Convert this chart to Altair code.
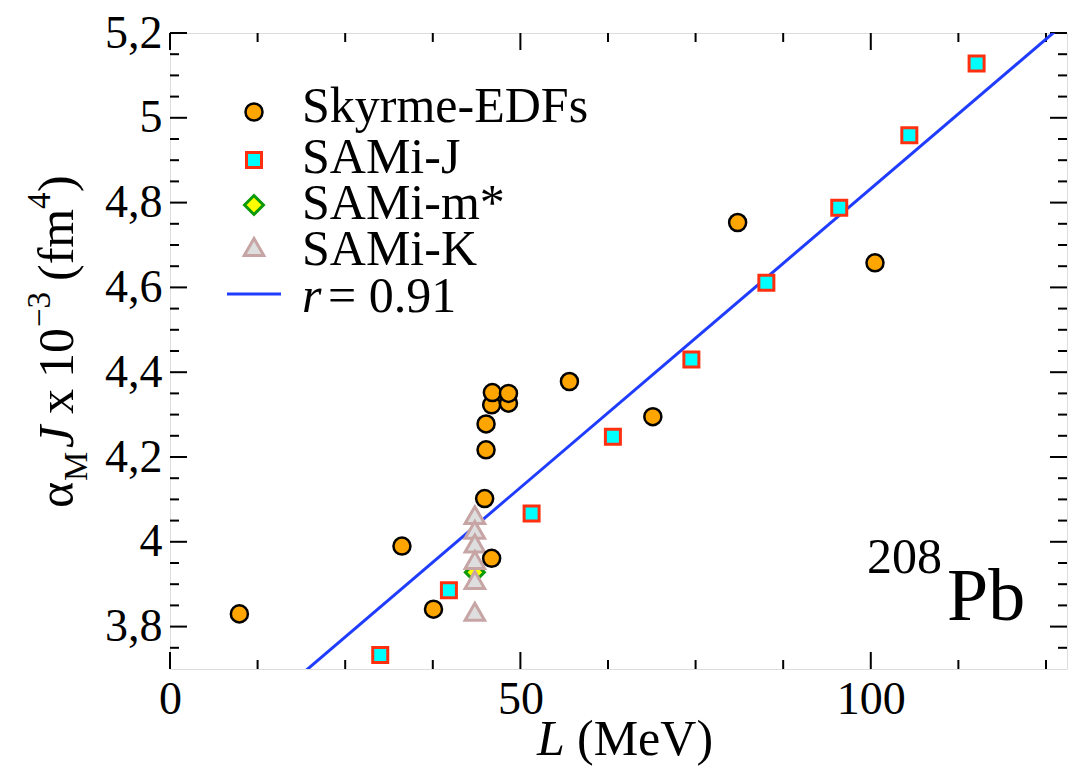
import altair as alt
import pandas as pd

# ---------------- data ----------------
sky_L = [9.9, 33.1, 37.6, 44.9, 45.1, 45.1, 45.9, 46.0, 45.9, 48.3, 48.3, 57.0, 68.9, 81.0, 100.6]
sky_y = [3.830, 3.990, 3.841, 4.102, 4.217, 4.278, 4.323, 4.352, 3.961, 4.327, 4.350, 4.378, 4.295, 4.753, 4.658]

samj_L = [30.0, 39.8, 51.6, 63.2, 74.4, 85.1, 95.5, 105.5, 115.1]
samj_y = [3.733, 3.886, 4.067, 4.248, 4.430, 4.611, 4.788, 4.959, 5.128]

samm_L = [43.5]
samm_y = [3.928]

samk_L = [43.5, 43.5, 43.5, 43.5, 43.5, 43.5]
samk_y = [4.063, 4.028, 3.996, 3.957, 3.910, 3.835]

fit_slope = 0.0141
fit_intercept = 3.423
fit_L_range = [0, 128]

x_major = [0, 50, 100]
x_minor = [12.5, 25, 37.5, 62.5, 75, 87.5, 112.5, 125]
y_major = [3.8, 4.0, 4.2, 4.4, 4.6, 4.8, 5.0, 5.2]
y_minor = [3.75, 3.85, 3.9, 3.95, 4.05, 4.1, 4.15, 4.25, 4.3, 4.35, 4.45, 4.5,
           4.55, 4.65, 4.7, 4.75, 4.85, 4.9, 4.95, 5.05, 5.1, 5.15]

legend_labels = ["Skyrme-EDFs", "SAMi-J", "SAMi-m*", "SAMi-K"]
r_label = "= 0.91"

# ---------------- layout / style ----------------
W, H = 897, 636
FONT = "Liberation Serif"
TICK_FS = 46
TXT_FS = 50
SUB_FS = 33

xs = alt.Scale(domain=[0, 128], nice=False, zero=False)
ys = alt.Scale(domain=[3.7, 5.2], nice=False, zero=False)

x_axis = alt.Axis(values=x_major, title=None, ticks=False, tickSize=0, domain=False, grid=False,
                  labelFont=FONT, labelFontSize=TICK_FS, labelColor="black", labelPadding=44,
                  labelBaseline="alphabetic", labelAngle=0, labelFlush=False, labelOverlap=False)
y_axis = alt.Axis(values=y_major, title=None, ticks=False, tickSize=0, domain=False, grid=False,
                  labelFont=FONT, labelFontSize=TICK_FS, labelColor="black", labelPadding=8,
                  labelBaseline="middle", labelAlign="right", labelFlush=False, labelOverlap=False,
                  labelExpr="replace(format(datum.value, '.1~f'), '.', ',')")

X = lambda f: alt.X(f, type="quantitative", scale=xs, axis=x_axis)
Y = lambda f: alt.Y(f, type="quantitative", scale=ys, axis=y_axis)

one = pd.DataFrame({"k": [0]})

layers = []

# inward ticks
def xticks(vals, length):
    d = pd.DataFrame({"L": vals})
    bot = alt.Chart(d).mark_rule(color="black", strokeWidth=2).encode(
        x=X("L"), y=alt.value(H), y2=alt.value(H - length))
    top = alt.Chart(d).mark_rule(color="black", strokeWidth=2).encode(
        x=X("L"), y=alt.value(0), y2=alt.value(length))
    return [bot, top]

def yticks(vals, length):
    d = pd.DataFrame({"v": vals})
    lef = alt.Chart(d).mark_rule(color="black", strokeWidth=2).encode(
        y=Y("v"), x=alt.value(0), x2=alt.value(length))
    rig = alt.Chart(d).mark_rule(color="black", strokeWidth=2).encode(
        y=Y("v"), x=alt.value(W), x2=alt.value(W - length))
    return [lef, rig]

layers += xticks(x_major, 17) + xticks(x_minor, 9) + yticks(y_major, 17) + yticks(y_minor, 9)

# fit line
fit_df = pd.DataFrame({"L": fit_L_range,
                       "v": [fit_intercept + fit_slope * l for l in fit_L_range]})
layers.append(alt.Chart(fit_df).mark_line(color="#1f3cff", strokeWidth=3, clip=True).encode(
    x=X("L"), y=Y("v")))

def pts(Ls, vs, **style):
    d = pd.DataFrame({"L": Ls, "v": vs})
    return alt.Chart(d).mark_point(filled=False, opacity=1, **style).encode(x=X("L"), y=Y("v"))

diamond_style = dict(shape="diamond", size=360, fill="#ffff00", stroke="#0a9a0a", strokeWidth=3, fillOpacity=1)
tri_style = dict(shape="triangle-up", size=380, fill="#dedede", stroke="#c7a5a5", strokeWidth=3, fillOpacity=1)
sq_style = dict(shape="square", size=225, fill="#00ffff", stroke="#ff3010", strokeWidth=3, fillOpacity=1)
circ_style = dict(shape="circle", size=290, fill="#ffa500", stroke="black", strokeWidth=2.5, fillOpacity=1)

layers.append(pts(samm_L, samm_y, **diamond_style))
layers.append(pts(samk_L, samk_y, **tri_style))
layers.append(pts(samj_L, samj_y, **sq_style))
layers.append(pts(sky_L, sky_y, **circ_style))

# legend (custom, inside plot)
sym_x = 84
sym_y = [79, 127, 172, 214]
txt_y = [89, 140, 186, 232]
for st, sy in zip([circ_style, sq_style, diamond_style, tri_style], sym_y):
    layers.append(alt.Chart(one).mark_point(filled=False, opacity=1, **st).encode(
        x=alt.value(sym_x), y=alt.value(sy)))
for lab, ty in zip(legend_labels, txt_y):
    layers.append(alt.Chart(one).mark_text(font=FONT, fontSize=TXT_FS, align="left",
                                           baseline="alphabetic", color="black").encode(
        x=alt.value(132), y=alt.value(ty), text=alt.value(lab)))
layers.append(alt.Chart(one).mark_rule(color="#1f3cff", strokeWidth=3).encode(
    x=alt.value(57), x2=alt.value(111), y=alt.value(261)))
layers.append(alt.Chart(one).mark_text(font=FONT, fontSize=TXT_FS, fontStyle="italic", align="left",
                                       baseline="alphabetic", color="black").encode(
    x=alt.value(132), y=alt.value(279), text=alt.value("r")))
layers.append(alt.Chart(one).mark_text(font=FONT, fontSize=TXT_FS, align="left",
                                       baseline="alphabetic", color="black").encode(
    x=alt.value(158), y=alt.value(279), text=alt.value(r_label)))

# generic annotation text helper
def txt(s, x, y, fs, style="normal", angle=0):
    kw = dict(font=FONT, fontSize=fs, fontStyle=style, align="left", baseline="alphabetic", color="black")
    if angle:
        kw["angle"] = angle
    return alt.Chart(one).mark_text(**kw).encode(x=alt.value(x), y=alt.value(y), text=alt.value(s))

# 208Pb
layers.append(txt("208", 697, 540, 50))
layers.append(txt("Pb", 777, 587, 74))

# x title: L (MeV)
layers.append(txt("L", 367, 722, TXT_FS, "italic"))
layers.append(txt("(MeV)", 407, 722, TXT_FS))

# y title: alpha_M J x 10^-3 (fm^4), rotated
bx = 73 - 170
sx = 87 - 170
px = 50 - 170
layers.append(txt("α", bx, 508 - 33, TXT_FS, angle=270))
layers.append(txt("M", sx, 481 - 33, SUB_FS, angle=270))
layers.append(txt("J", bx, 448 - 33, TXT_FS, "italic", angle=270))
layers.append(txt("x", bx, 414 - 33, TXT_FS, angle=270))
layers.append(txt("10", bx, 378 - 33, TXT_FS, angle=270))
layers.append(txt("−3", px, 327 - 33, SUB_FS, angle=270))
layers.append(txt("(fm", bx, 281 - 33, TXT_FS, angle=270))
layers.append(txt("4", px, 209 - 33, SUB_FS, angle=270))
layers.append(txt(")", bx, 192 - 33, TXT_FS, angle=270))

chart = alt.layer(*layers).properties(
    width=W, height=H,
    autosize=alt.AutoSizeParams(type="none"),
    padding={"left": 170, "top": 33, "right": 2, "bottom": 98},
).configure_view(stroke="black", strokeWidth=2.5).configure(background="white")

chart.save("out.html", embed_options={"renderer": "svg", "actions": False})
